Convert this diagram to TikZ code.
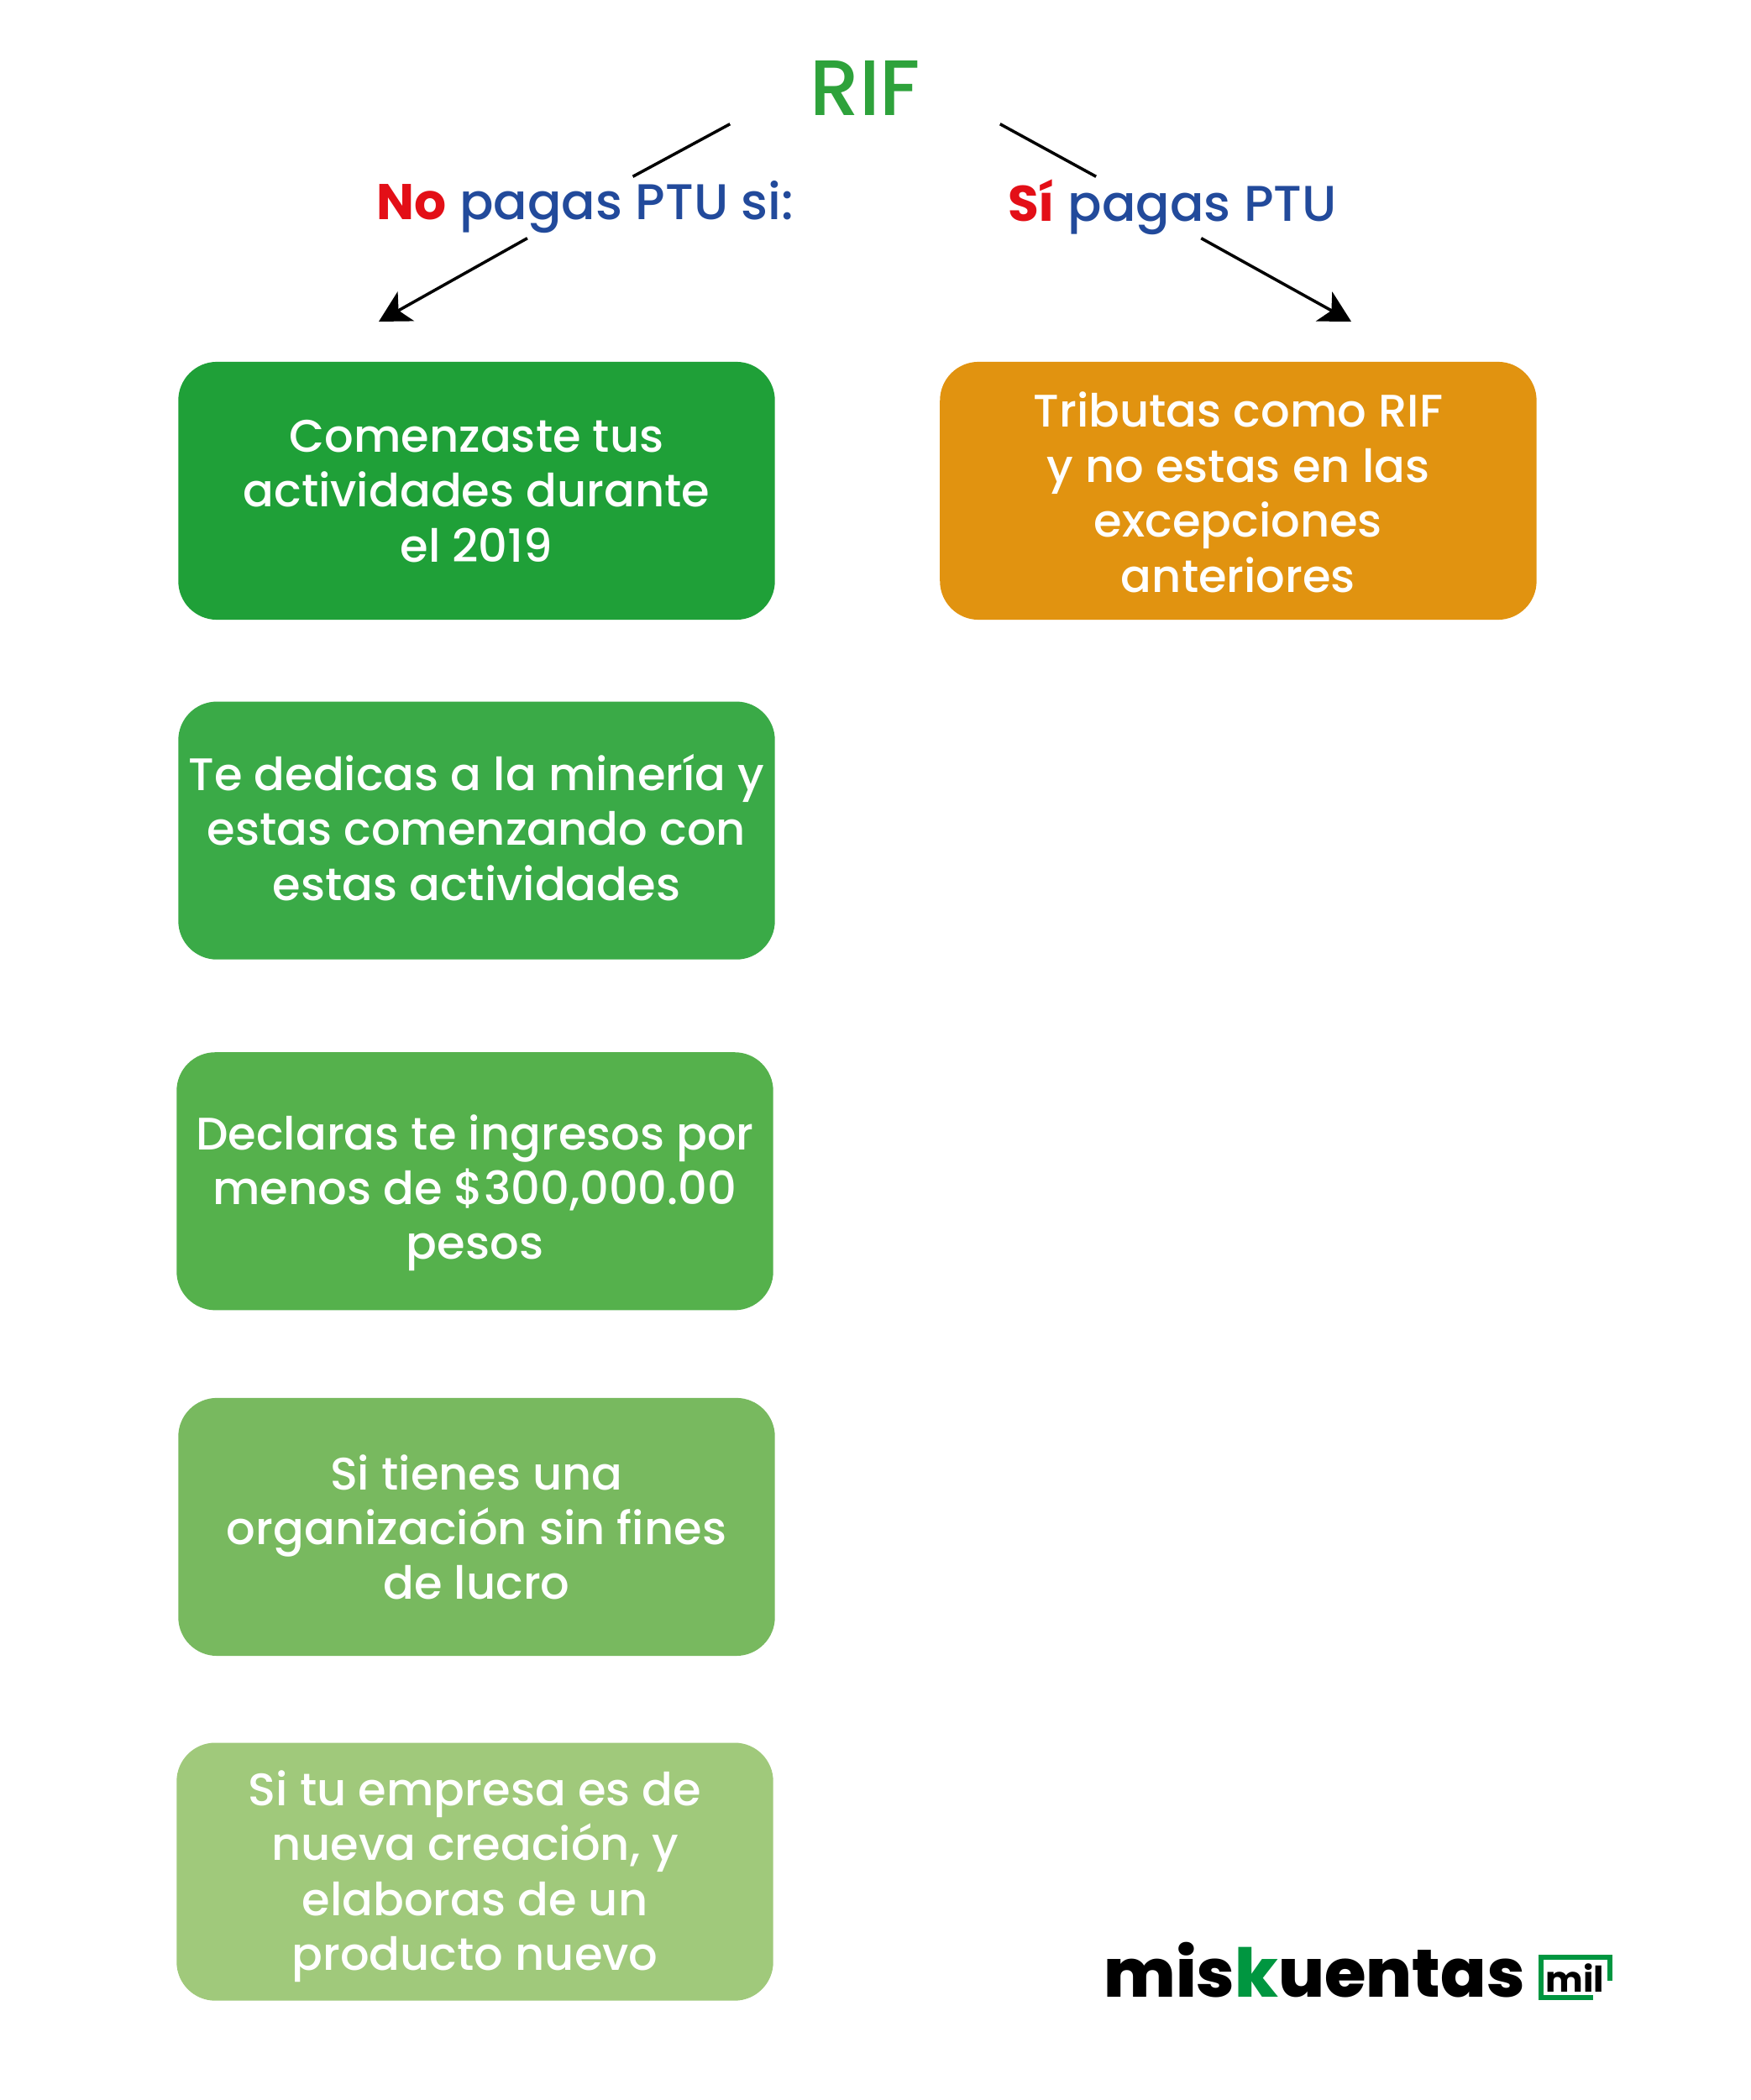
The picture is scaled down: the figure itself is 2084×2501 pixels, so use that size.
\documentclass[tikz,border=0pt]{standalone}
\usepackage{fontspec}
\setmainfont{Poppins}
\newfontfamily\medfont{Poppins Medium}
\newfontfamily\logofont{Poppins ExtraBold}
\usetikzlibrary{arrows.meta,positioning}
\usepackage{xcolor}
\definecolor{cgreen}{HTML}{2EA23B}
\definecolor{cblue}{HTML}{224A9B}
\definecolor{cred}{HTML}{E30F17}
\definecolor{cbox1}{HTML}{1FA038}
\definecolor{cbox2}{HTML}{3AAA47}
\definecolor{cbox3}{HTML}{55B14C}
\definecolor{cbox4}{HTML}{78B95F}
\definecolor{cbox5}{HTML}{A0C97B}
\definecolor{cboxo}{HTML}{E19310}
\definecolor{clogo}{HTML}{009640}
\newcommand{\redword}[1]{\textcolor{cred}{\normalfont\bfseries #1}}
\newcommand{\boxlines}[2]{\raisebox{#1}[\height][\depth]{\begin{tabular}{@{}c@{}}#2\end{tabular}}}

\begin{document}
\begin{tikzpicture}[
  x=0.01cm,y=-0.01cm,
  box/.style={rectangle,rounded corners=0.46cm,minimum width=7.10cm,minimum height=3.07cm,inner sep=0pt,
    text=white,font=\medfont\fontsize{15.45}{18.6}\selectfont},
  head/.style={rectangle,inner sep=0pt,minimum height=0.72cm,text=cblue,font=\medfont\fontsize{17}{21}\selectfont},
  edge/.style={line width=1pt,black},
  arrowedge/.style={edge,-{Stealth[length=0.37cm,width=0.40cm,inset=0.10cm]}}
]
  \useasboundingbox (0,0) rectangle (2084,2501);

  % Title and the two headings
  \node[inner sep=0pt,minimum width=3.20cm,minimum height=0.84cm,text=cgreen,font=\medfont\fontsize{26.6}{32}\selectfont] (rif) at (1030,105) {RIF};
  \node[head] (nopagas) at (697,247) {\redword{No} pagas PTU si:};
  \node[head] (sipagas) at (1396,247) {\redword{Sí} pagas PTU};

  % Left column
  \node[box,fill=cbox1] (comenzaste) at (567.5,584.5) {\boxlines{-0.064cm}{Comenzaste tus\\actividades durante\\el 2019}};
  \node[box,fill=cbox2,below=0.96cm of comenzaste] (mineria) {\boxlines{-0.046cm}{Te dedicas a la minería y\\estas comenzando con\\estas actividades}};
  \node[box,fill=cbox3,below=1.09cm of mineria,xshift=-0.02cm] (ingresos) {\boxlines{-0.146cm}{Declaras te ingresos por\\menos de \$300,000.00\\pesos}};
  \node[box,fill=cbox4,below=1.03cm of ingresos,xshift=0.02cm] (lucro) {\boxlines{-0.08cm}{Si tienes una\\organización sin fines\\de lucro}};
  \node[box,fill=cbox5,below=1.02cm of lucro,xshift=-0.02cm] (empresa) {\boxlines{-0.065cm}{Si tu empresa es de\\nueva creación, y\\elaboras de un\\producto nuevo}};

  % Right column
  \node[box,fill=cboxo,right=1.95cm of comenzaste] (tributas) {\boxlines{-0.094cm}{Tributas como RIF\\y no estas en las\\excepciones\\anteriores}};

  % Arrow ends
  \coordinate (noend) at (451,383);
  \coordinate (siend) at (1609,383);

  % Lines broken by the headings
  \draw[edge] (rif.south west) -- (nopagas.33);
  \draw[edge] (rif.south east) -- (sipagas.158);
  \draw[arrowedge] (nopagas.208.5) -- (noend);
  \draw[arrowedge] (sipagas.313.4) -- (siend);

  % Logo
  \node[inner sep=0pt,anchor=base west,font=\logofont\fontsize{22.8}{28}\selectfont] (logo) at (1314,2378) {mis\textcolor{clogo}{k}uentas};
  \node[inner sep=0pt,anchor=base,font=\bfseries\fontsize{12}{15}\selectfont] (mil) at (1875.5,2372) {mil};
  \draw[clogo,line width=0.06cm] (1896.5,2379) -- (1834.5,2379) -- (1834.5,2331) -- (1916.5,2331) -- (1916.5,2359);
\end{tikzpicture}
\end{document}
